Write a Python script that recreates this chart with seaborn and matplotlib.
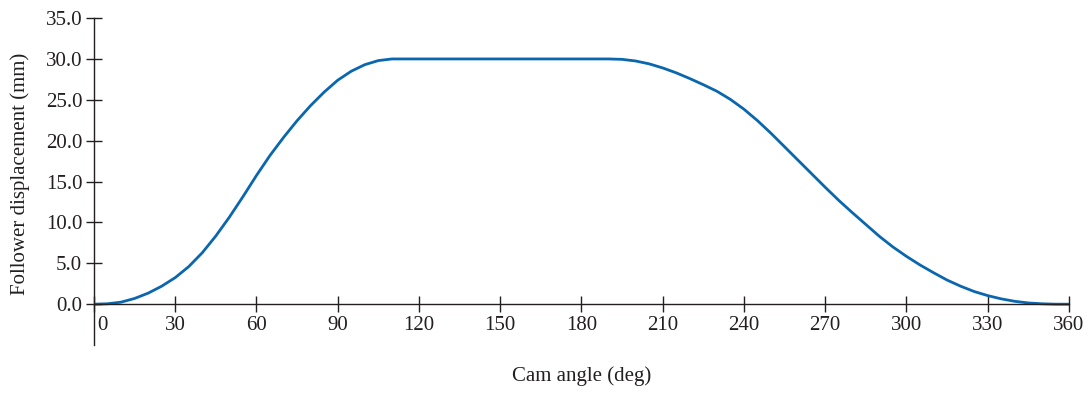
import pandas as pd
import matplotlib
matplotlib.use('Agg')
import matplotlib.pyplot as plt
import matplotlib.transforms as mtransforms
import seaborn as sns

# cam angle (deg) and follower displacement (mm)
cam_angle = [0, 5, 10, 15, 20, 25, 30, 35, 40, 45, 50, 55, 60, 65, 70, 75, 80, 85,
             90, 95, 100, 105, 110, 115, 120, 130, 140, 150, 160, 170, 180, 185,
             190, 195, 200, 205, 210, 215, 220, 225, 230, 235, 240, 245, 250, 255,
             260, 265, 270, 275, 280, 285, 290, 295, 300, 305, 310, 315, 320, 325,
             330, 335, 340, 345, 350, 355, 360]
displacement = [0.0, 0.05, 0.25, 0.7, 1.35, 2.2, 3.25, 4.6, 6.3, 8.35, 10.65, 13.15,
                15.75, 18.2, 20.4, 22.45, 24.3, 25.95, 27.4, 28.5, 29.3, 29.8, 30.0,
                30.0, 30.0, 30.0, 30.0, 30.0, 30.0, 30.0, 30.0, 30.0, 30.0, 29.95,
                29.75, 29.4, 28.9, 28.3, 27.6, 26.85, 26.05, 25.05, 23.85, 22.45, 20.9,
                19.25, 17.6, 15.95, 14.3, 12.7, 11.2, 9.75, 8.3, 7.0, 5.85, 4.8, 3.85,
                2.95, 2.2, 1.55, 1.05, 0.65, 0.35, 0.15, 0.05, 0.0, 0.0]

x_ticks = [0, 30, 60, 90, 120, 150, 180, 210, 240, 270, 300, 330, 360]
y_ticks = [0, 5, 10, 15, 20, 25, 30, 35]

df = pd.DataFrame({'angle': cam_angle, 'disp': displacement})

sns.set_style('ticks')
plt.rcParams['font.family'] = ['Liberation Serif', 'DejaVu Serif']

ink = '#231f20'
fig = plt.figure(figsize=(10.89, 3.93), dpi=100)
ax = fig.add_axes([0.0863, 0.122, 0.8953, 0.832])

sns.lineplot(data=df, x='angle', y='disp', color='#0a67ad', linewidth=2.0, ax=ax)

ax.set_xlim(0, 360)
ax.set_ylim(-5, 35)
ax.set_xticks(x_ticks)
ax.set_yticks(y_ticks)
ax.set_yticklabels([f'{v:.1f}' for v in y_ticks])

for side in ['top', 'right']:
    ax.spines[side].set_visible(False)
ax.spines['bottom'].set_position(('data', 0))
for side in ['left', 'bottom']:
    ax.spines[side].set_color(ink)
    ax.spines[side].set_linewidth(1.0)

ax.tick_params(axis='both', direction='inout', length=11, width=1.0, color=ink,
               labelsize=15, labelcolor=ink, pad=3)

# nudge the "0" label off the vertical axis
lbl0 = ax.get_xticklabels()[0]
lbl0.set_transform(lbl0.get_transform() + mtransforms.ScaledTranslation(8 / 100, 0, fig.dpi_scale_trans))

ax.set_xlabel('Cam angle (deg)', fontsize=15, color=ink)
ax.set_ylabel('Follower displacement (mm)', fontsize=15, color=ink)
ax.xaxis.set_label_coords(0.5, -0.065)
ax.yaxis.set_label_coords(-0.066, 0.523)

fig.savefig('out.png', dpi=100)
